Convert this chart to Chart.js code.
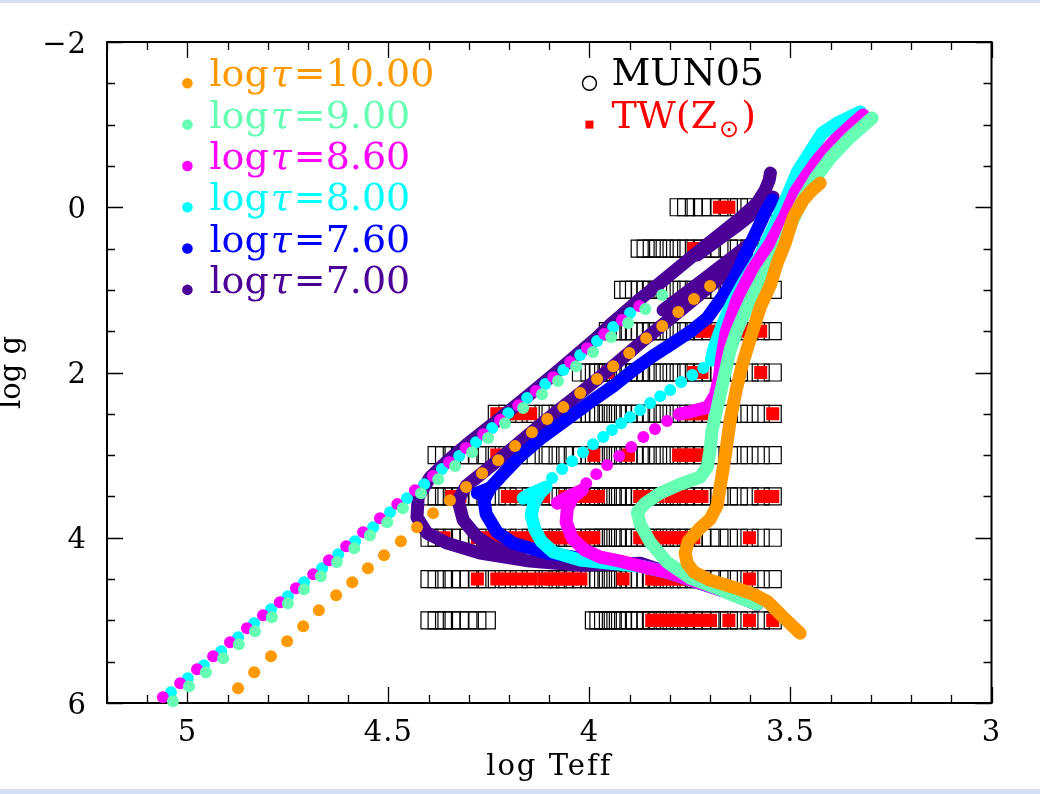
<!DOCTYPE html>
<html>
<head>
<meta charset="utf-8">
<script src="https://cdn.jsdelivr.net/npm/chart.js@4.4.1/dist/chart.umd.min.js"></script>
<style>
  html, body { margin: 0; padding: 0; background: #fff; }
  canvas { display: block; }
</style>
</head>
<body>
<canvas id="hrd" width="1040" height="794"></canvas>
<script>
// log Teff / log g diagram: isochrones over the MUN05 grid and the TW(Zsun) subset

const ageLabels = ['10.00', '9.00', '8.60', '8.00', '7.60', '7.00']
const ageColors = ['#ff9900', '#66ffb3', '#ff00ff', '#00ffff', '#0000ff', '#4b0096']

const xTickValues = [5, 4.5, 4, 3.5, 3]
const xTickLabels = ['5', '4.5', '4', '3.5', '3']
const yTickValues = [-2, 0, 2, 4, 6]
const yTickLabels = ['\u22122', '0', '2', '4', '6']

// model grid temperatures (K)
const teffGrid = [
	3500, 3750, 4000, 4250, 4500, 4750, 5000, 5250, 5500, 5750, 6000, 6250, 6500, 6750,
	7000, 7250, 7500, 7750, 8000, 8250, 8500, 8750, 9000, 9250, 9500, 9750, 10000,
	10500, 11000, 11500, 12000, 12500, 13000,
	14000, 15000, 16000, 17000, 18000, 19000, 20000, 21000, 22000, 23000, 24000, 25000,
]

// MUN05 rows: log g and Teff span covered
const munLogg = [0, 0.5, 1, 1.5, 2, 2.5, 3, 3.5, 4, 4.5, 5, 5]
const munTlo = [3500, 3500, 3500, 3500, 3500, 3500, 3500, 3500, 3500, 3500, 3500, 18000]
const munThi = [6000, 7500, 8250, 9000, 10500, 17000, 24000, 25000, 25000, 25000, 9750, 25000]

// TW(Zsun) spectra per log g row
const twLogg = [0, 0.5, 1, 1.5, 2, 2.5, 3, 3.5, 4, 4.5, 5]
const twTeff = [
	[4500, 4750],
	[5500],
	[4500],
	[3750, 4000, 4250, 4500, 4750, 5000, 5250],
	[3750, 5250, 5500, 9000],
	[3500, 5250, 5500, 5750, 11500, 12000, 14000, 15000, 16000, 17000],
	[5250, 5500, 5750, 6000, 8000, 9750, 17000],
	[3500, 3750, 5250, 5500, 5750, 6000, 6250, 6750, 7000, 7250, 7500, 9500, 9750, 10000,
		10500, 11000, 11500, 13000, 14000, 15000, 16000, 21000, 22000],
	[4000, 5500, 5750, 6000, 6250, 6500, 6750, 7000, 7250, 7500, 9750, 10000, 10500, 11000,
		11500, 12000, 12500, 13000, 14000, 15000, 16000, 17000, 18000, 19000, 23000],
	[4000, 5750, 6000, 6250, 6500, 6750, 7000, 8250, 10500, 11000, 11500, 12000, 12500,
		13000, 14000, 15000, 16000, 17000, 19000],
	[3500, 4000, 4500, 5000, 5250, 5500, 5750, 6000, 6250, 6500, 6750, 7000],
]

// isochrones, [log Teff, log g]
// log t = 10.00
const iso100Main = [
	[3.476, 5.155], [3.518, 4.961], [3.558, 4.768], [3.593, 4.683], [3.642, 4.598],
	[3.700, 4.513], [3.740, 4.416], [3.757, 4.308], [3.762, 4.186], [3.754, 4.041],
	[3.725, 3.884], [3.700, 3.775], [3.682, 3.605], [3.675, 3.387], [3.662, 3.000],
	[3.650, 2.576], [3.635, 2.213], [3.620, 1.910], [3.605, 1.668], [3.575, 1.208],
	[3.550, 0.942], [3.533, 0.676], [3.513, 0.433], [3.493, 0.119], [3.468, -0.087],
	[3.446, -0.208], [3.426, -0.293],
]
const iso100Pagb = [
	[3.700, 0.954], [3.740, 1.111], [3.779, 1.269], [3.819, 1.438], [3.859, 1.584],
	[3.901, 1.765], [3.941, 1.923], [3.981, 2.080], [4.023, 2.249], [4.065, 2.419],
	[4.105, 2.564], [4.143, 2.722], [4.185, 2.891], [4.227, 3.061], [4.267, 3.218],
	[4.307, 3.387], [4.347, 3.545], [4.389, 3.702], [4.429, 3.872], [4.469, 4.041],
	[4.511, 4.211], [4.551, 4.368], [4.590, 4.538], [4.630, 4.695], [4.673, 4.877],
	[4.712, 5.070], [4.752, 5.252], [4.792, 5.433], [4.834, 5.627], [4.874, 5.821],
]

// log t = 9.00
const iso90Main = [
	[3.583, 4.804], [3.637, 4.707], [3.683, 4.610], [3.749, 4.489], [3.807, 4.295],
	[3.849, 4.053], [3.874, 3.835], [3.881, 3.690], [3.861, 3.581], [3.824, 3.460],
	[3.774, 3.351], [3.725, 3.266], [3.707, 3.145], [3.700, 2.939], [3.695, 2.697],
	[3.682, 2.419], [3.667, 2.092], [3.650, 1.729], [3.633, 1.487], [3.600, 1.123],
	[3.563, 0.785], [3.526, 0.518], [3.496, 0.179], [3.468, -0.111], [3.438, -0.354],
	[3.401, -0.596], [3.351, -0.850], [3.297, -1.080],
]
const iso90Pagb = [
	[3.819, 1.063], [3.861, 1.232], [3.904, 1.402], [3.946, 1.571], [3.991, 1.753],
	[4.033, 1.923], [4.078, 2.104], [4.118, 2.262], [4.165, 2.431], [4.210, 2.613],
	[4.252, 2.794], [4.292, 2.964], [4.334, 3.133], [4.376, 3.291], [4.419, 3.460],
	[4.464, 3.642], [4.503, 3.811], [4.546, 3.969], [4.585, 4.126], [4.628, 4.295],
	[4.668, 4.465], [4.710, 4.622], [4.750, 4.792], [4.790, 4.961], [4.832, 5.131],
	[4.872, 5.288], [4.911, 5.458], [4.954, 5.627], [4.996, 5.797], [5.036, 5.978],
]

// log t = 8.60
const iso86Main = [
	[3.583, 4.804], [3.650, 4.671], [3.725, 4.550], [3.807, 4.416], [3.874, 4.344],
	[3.924, 4.283], [3.973, 4.235], [4.011, 4.150], [4.043, 4.005], [4.058, 3.811],
	[4.055, 3.642], [4.041, 3.508], [4.018, 3.424], [4.060, 3.521], [4.080, 3.581],
]
const iso86Gap = [
	[4.008, 3.339], [3.983, 3.230], [3.956, 3.121], [3.926, 3.012], [3.896, 2.903],
	[3.866, 2.782], [3.837, 2.685], [3.807, 2.588], [3.777, 2.504],
]
const iso86Rgb = [
	[3.777, 2.504], [3.742, 2.467], [3.705, 2.419], [3.687, 2.274], [3.677, 2.068],
	[3.670, 1.789], [3.660, 1.511], [3.633, 1.123], [3.595, 0.760], [3.550, 0.433],
	[3.513, 0.094], [3.488, -0.184], [3.463, -0.366], [3.433, -0.571], [3.389, -0.814],
	[3.351, -0.983], [3.319, -1.116],
]
const iso86Pagb = [
	[3.876, 1.196], [3.919, 1.366], [3.963, 1.535], [4.006, 1.705], [4.048, 1.874],
	[4.090, 2.056], [4.133, 2.225], [4.177, 2.395], [4.222, 2.576], [4.264, 2.746],
	[4.307, 2.915], [4.349, 3.085], [4.389, 3.254], [4.434, 3.424], [4.478, 3.593],
	[4.521, 3.763], [4.563, 3.932], [4.605, 4.102], [4.648, 4.271], [4.687, 4.441],
	[4.730, 4.610], [4.770, 4.780], [4.812, 4.937], [4.852, 5.094], [4.894, 5.264],
	[4.936, 5.433], [4.976, 5.591], [5.018, 5.760], [5.061, 5.930],
]

// log t = 8.00
const iso80Main = [
	[3.583, 4.804], [3.650, 4.671], [3.725, 4.550], [3.807, 4.416], [3.874, 4.344],
	[3.948, 4.308], [4.023, 4.271], [4.090, 4.174], [4.120, 4.041], [4.135, 3.908],
	[4.145, 3.726], [4.138, 3.581], [4.123, 3.460], [4.108, 3.387], [4.148, 3.472],
	[4.165, 3.521],
]
const iso80Gap = [
	[4.093, 3.278], [4.068, 3.169], [4.043, 3.073], [4.016, 2.964], [3.991, 2.867],
	[3.966, 2.782], [3.944, 2.697], [3.921, 2.613], [3.899, 2.540], [3.874, 2.455],
	[3.849, 2.370], [3.824, 2.286], [3.799, 2.213], [3.772, 2.116], [3.744, 2.031],
	[3.717, 1.947],
]
const iso80Rgb = [
	[3.697, 1.850], [3.690, 1.705], [3.677, 1.523], [3.662, 1.341], [3.645, 1.160],
	[3.613, 0.881], [3.575, 0.579], [3.543, 0.252], [3.508, -0.136], [3.483, -0.426],
	[3.456, -0.632], [3.421, -0.898], [3.384, -1.019], [3.326, -1.153],
]
const iso80Pagb = [
	[3.899, 1.281], [3.941, 1.450], [3.981, 1.620], [4.023, 1.789], [4.065, 1.971],
	[4.110, 2.140], [4.155, 2.310], [4.202, 2.492], [4.242, 2.673], [4.282, 2.843],
	[4.324, 3.012], [4.367, 3.169], [4.411, 3.351], [4.454, 3.521], [4.496, 3.690],
	[4.538, 3.872], [4.583, 4.041], [4.625, 4.199], [4.665, 4.368], [4.710, 4.538],
	[4.750, 4.707], [4.792, 4.864], [4.834, 5.034], [4.874, 5.203], [4.916, 5.373],
	[4.959, 5.542], [4.999, 5.700], [5.041, 5.869],
]

// log t = 7.60
const iso76Main = [
	[3.583, 4.804], [3.650, 4.671], [3.725, 4.550], [3.807, 4.416], [3.874, 4.344],
	[3.941, 4.295], [4.023, 4.247], [4.105, 4.186], [4.190, 4.065], [4.230, 3.932],
	[4.257, 3.714], [4.262, 3.545], [4.247, 3.400], [4.222, 3.266], [4.172, 3.012],
	[4.123, 2.806], [4.055, 2.564], [3.991, 2.334], [3.941, 2.165], [3.891, 1.971],
	[3.842, 1.801], [3.792, 1.644], [3.744, 1.487], [3.707, 1.341], [3.675, 1.123],
	[3.642, 0.881], [3.613, 0.579], [3.583, 0.276], [3.560, 0.034], [3.545, -0.087],
]
const iso76Hook = [[4.247, 3.400], [4.279, 3.460]]

// log t = 7.00
const iso70Outer = [
	[3.583, 4.804], [3.650, 4.671], [3.725, 4.550], [3.807, 4.416], [3.874, 4.308],
	[4.023, 4.332], [4.148, 4.283], [4.272, 4.186], [4.354, 4.065], [4.404, 3.944],
	[4.429, 3.751], [4.426, 3.508], [4.396, 3.266], [4.354, 3.073], [4.304, 2.867],
	[4.222, 2.552], [4.148, 2.262], [4.073, 1.959], [3.986, 1.596], [3.941, 1.390],
	[3.874, 1.111], [3.819, 0.894], [3.725, 0.518], [3.625, 0.131], [3.583, -0.051],
	[3.563, -0.208], [3.553, -0.329], [3.550, -0.414],
]
const iso70Inner = [
	[4.172, 4.223], [4.240, 4.114], [4.279, 3.993], [4.314, 3.787], [4.327, 3.545],
	[4.307, 3.375], [4.267, 3.218], [4.227, 3.061], [4.185, 2.891], [4.105, 2.564],
	[4.023, 2.249], [3.941, 1.923], [3.859, 1.584], [3.779, 1.269], [3.700, 0.954],
	[3.650, 0.760], [3.608, 0.603],
]
const iso70Loop1 = [[3.817, 1.245], [3.725, 0.906], [3.605, 0.458]]
const iso70Loop2 = [[3.732, 0.579], [3.637, 0.240], [3.543, -0.123]]

const pairs = (pts) => pts.map(([t, g]) => ({ x: t, y: g }))

function munPoints() {
	const out = []
	munLogg.forEach((g, i) => {
		teffGrid
			.filter((t) => t >= munTlo[i] && t <= munThi[i])
			.forEach((t) => out.push({ x: Math.log10(t), y: g }))
	})
	return out
}

function twPoints() {
	const out = []
	twLogg.forEach((g, i) => twTeff[i].forEach((t) => out.push({ x: Math.log10(t), y: g })))
	return out
}

const band = (pts, color, order) => ({
	data: pairs(pts),
	showLine: true,
	pointRadius: 0,
	borderColor: color,
	backgroundColor: color,
	borderWidth: 13,
	borderCapStyle: 'round',
	borderJoinStyle: 'round',
	tension: 0,
	order,
	clip: false,
})

const dots = (pts, color, order) => ({
	data: pairs(pts),
	showLine: false,
	pointRadius: 6,
	pointBorderWidth: 0,
	backgroundColor: color,
	borderColor: color,
	order,
	clip: false,
})

const [cOrange, cAqua, cMagenta, cCyan, cBlue, cPurple] = ageColors

const datasets = [
	// oldest isochrone ends up on top (lowest order drawn last)
	band(iso100Main, cOrange, 1),
	dots(iso100Pagb, cOrange, 1),
	band(iso90Main, cAqua, 2),
	dots(iso90Pagb, cAqua, 2),
	band(iso86Main, cMagenta, 3),
	dots(iso86Gap, cMagenta, 3),
	band(iso86Rgb, cMagenta, 3),
	dots(iso86Pagb, cMagenta, 3),
	band(iso80Main, cCyan, 4),
	dots(iso80Gap, cCyan, 4),
	band(iso80Rgb, cCyan, 4),
	dots(iso80Pagb, cCyan, 4),
	band(iso76Main, cBlue, 5),
	band(iso76Hook, cBlue, 5),
	band(iso70Outer, cPurple, 6),
	band(iso70Inner, cPurple, 6),
	band(iso70Loop1, cPurple, 6),
	band(iso70Loop2, cPurple, 6),
	{
		data: twPoints(),
		pointStyle: 'rect',
		pointRadius: 9.2,
		pointBorderWidth: 0,
		backgroundColor: '#ff0000',
		borderColor: '#ff0000',
		order: 8,
	},
	{
		data: munPoints(),
		pointStyle: 'rect',
		pointRadius: 12,
		backgroundColor: 'rgba(0,0,0,0)',
		borderColor: '#000',
		pointBorderWidth: 1.2,
		order: 9,
	},
]

const SERIF = '"DejaVu Serif", "Liberation Serif", serif'

const pageEdges = {
	id: 'pageEdges',
	beforeDraw(chart) {
		const { ctx, width, height } = chart
		ctx.save()
		ctx.fillStyle = '#d3def4'
		ctx.fillRect(0, 0, width, 3)
		ctx.fillRect(0, height - 5, width, 5)
		ctx.restore()
	},
}

// box and inward tick marks on all four sides
const frame = {
	id: 'frame',
	beforeDatasetsDraw(chart) {
		const { ctx, chartArea: a } = chart
		const xs = chart.scales.x
		const ys = chart.scales.y
		ctx.save()
		ctx.strokeStyle = '#000'
		ctx.lineWidth = 1.3
		ctx.beginPath()
		for (let v = 30; v <= 52; v++) {
			const px = Math.round(xs.getPixelForValue(v / 10)) + 0.5
			const len = v % 5 === 0 ? 16 : 8
			ctx.moveTo(px, a.bottom)
			ctx.lineTo(px, a.bottom - len)
			ctx.moveTo(px, a.top)
			ctx.lineTo(px, a.top + len)
		}
		for (let v = -4; v <= 12; v++) {
			const py = Math.round(ys.getPixelForValue(v / 2)) + 0.5
			const len = v % 4 === 0 ? 16 : 8
			ctx.moveTo(a.left, py)
			ctx.lineTo(a.left + len, py)
			ctx.moveTo(a.right, py)
			ctx.lineTo(a.right - len, py)
		}
		ctx.stroke()
		ctx.lineWidth = 2
		ctx.strokeRect(a.left, a.top, a.right - a.left, a.bottom - a.top)
		ctx.restore()
	},
}

const labels = {
	id: 'labels',
	afterDraw(chart) {
		const { ctx, chartArea: a } = chart
		const xs = chart.scales.x
		const ys = chart.scales.y
		ctx.save()
		ctx.fillStyle = '#000'
		ctx.font = '29px ' + SERIF
		ctx.letterSpacing = '1px'

		ctx.textAlign = 'center'
		ctx.textBaseline = 'alphabetic'
		xTickValues.forEach((v, i) => {
			ctx.fillText(xTickLabels[i], xs.getPixelForValue(v), a.bottom + 38)
		})
		ctx.textAlign = 'right'
		yTickValues.forEach((v, i) => {
			ctx.fillText(yTickLabels[i], a.left - 20, ys.getPixelForValue(v) + 10.5)
		})

		// axis titles
		ctx.textAlign = 'center'
		ctx.letterSpacing = '2px'
		ctx.fillText('log Teff', (a.left + a.right) / 2, a.bottom + 72)
		ctx.letterSpacing = '0px'
		ctx.save()
		ctx.translate(20, (a.top + a.bottom) / 2)
		ctx.rotate(-Math.PI / 2)
		ctx.fillText('log g', 0, 0)
		ctx.restore()

		// age legend
		ctx.textAlign = 'left'
		const lx = xs.getPixelForValue(5.0)
		ageLabels.forEach((age, i) => {
			const ly = ys.getPixelForValue(-1.5 + 0.5 * i)
			ctx.fillStyle = ageColors[i]
			ctx.beginPath()
			ctx.arc(lx, ly, 5.3, 0, Math.PI * 2)
			ctx.fill()
			let tx = lx + 22
			ctx.font = '38px ' + SERIF
			ctx.fillText('log', tx, ly + 3)
			tx += ctx.measureText('log').width + 2
			ctx.font = 'italic 38px ' + SERIF
			ctx.fillText('\u03c4', tx, ly + 3)
			tx += ctx.measureText('\u03c4').width + 2
			ctx.font = '38px ' + SERIF
			ctx.fillText('=' + age, tx, ly + 3)
		})

		// library legend
		const mx = xs.getPixelForValue(4.0)
		const my1 = ys.getPixelForValue(-1.5)
		const my2 = ys.getPixelForValue(-1.0)
		ctx.strokeStyle = '#000'
		ctx.lineWidth = 1.5
		ctx.beginPath()
		ctx.arc(mx, my1, 7, 0, Math.PI * 2)
		ctx.stroke()
		ctx.fillStyle = '#000'
		ctx.font = '38px ' + SERIF
		ctx.fillText('MUN05', mx + 22, my1 + 2)

		ctx.fillStyle = '#ff0000'
		ctx.fillRect(mx - 4, my2 - 4, 8, 8)
		let tx = mx + 22
		ctx.fillText('TW(Z', tx, my2 + 3)
		tx += ctx.measureText('TW(Z').width + 2
		ctx.font = '24px "DejaVu Sans", sans-serif'
		ctx.fillText('\u2299', tx, my2 + 12)
		tx += ctx.measureText('\u2299').width + 2
		ctx.font = '38px ' + SERIF
		ctx.fillText(')', tx, my2 + 3)
		ctx.restore()
	},
}

new Chart(document.getElementById('hrd'), {
	type: 'scatter',
	data: { datasets },
	options: {
		responsive: false,
		animation: false,
		devicePixelRatio: 1,
		events: [],
		layout: { padding: { top: 42, right: 48.5, left: 0, bottom: 0 } },
		plugins: { legend: { display: false }, tooltip: { enabled: false } },
		scales: {
			x: {
				type: 'linear',
				min: 3,
				max: 5.2,
				reverse: true,
				grid: { display: false },
				border: { display: false },
				ticks: { display: false },
				afterFit: (s) => { s.height = 91 },
			},
			y: {
				type: 'linear',
				min: -2,
				max: 6,
				reverse: true,
				grid: { display: false },
				border: { display: false },
				ticks: { display: false },
				afterFit: (s) => { s.width = 107 },
			},
		},
	},
	plugins: [pageEdges, frame, labels],
})
</script>
</body>
</html>
